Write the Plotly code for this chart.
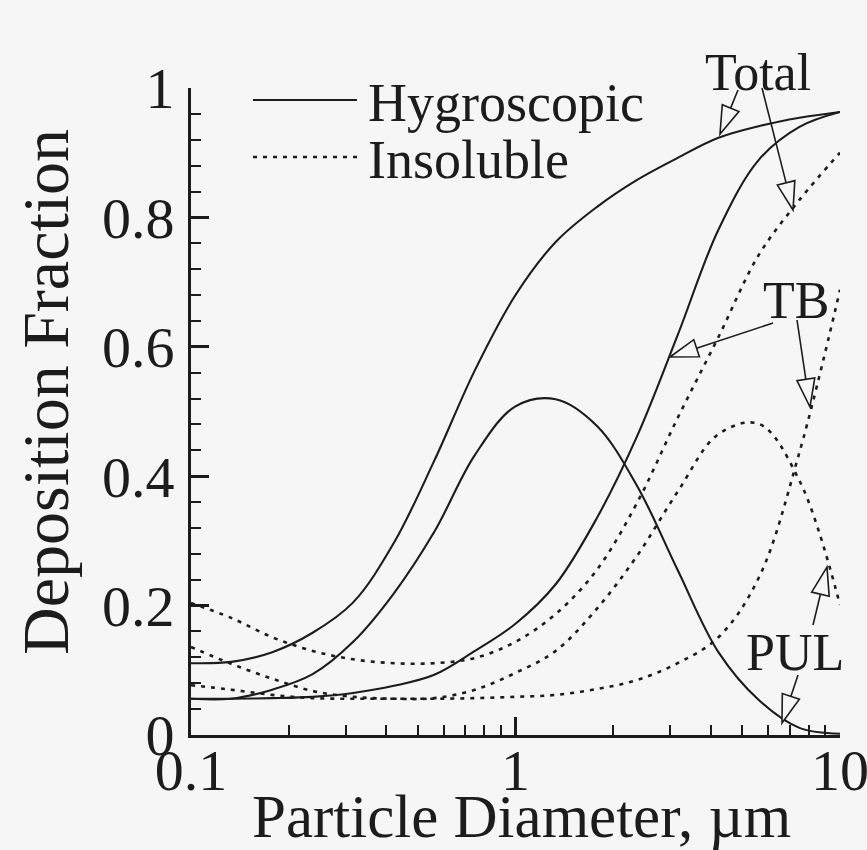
import plotly.graph_objects as go

# ---------------- data ----------------
diameter = [0.1, 0.133, 0.178, 0.237, 0.316, 0.422, 0.562, 0.75, 1.0,
            1.33, 1.78, 2.37, 3.16, 4.22, 5.62, 7.5, 10]

hyg_total = [0.111, 0.113, 0.128, 0.158, 0.205, 0.297, 0.424, 0.564, 0.680,
             0.762, 0.816, 0.858, 0.892, 0.923, 0.941, 0.954, 0.963]
hyg_tb = [0.056, 0.056, 0.057, 0.059, 0.065, 0.076, 0.093, 0.130, 0.172,
          0.233, 0.335, 0.462, 0.618, 0.781, 0.889, 0.940, 0.963]
hyg_pul = [0.056, 0.056, 0.070, 0.094, 0.144, 0.219, 0.314, 0.433, 0.508,
           0.519, 0.478, 0.385, 0.255, 0.128, 0.054, 0.011, 0.002]

ins_total = [0.204, 0.181, 0.151, 0.130, 0.117, 0.111, 0.111, 0.119, 0.144,
             0.187, 0.255, 0.359, 0.490, 0.615, 0.742, 0.827, 0.900]
ins_tb = [0.077, 0.070, 0.062, 0.057, 0.056, 0.056, 0.056, 0.057, 0.059,
          0.062, 0.071, 0.085, 0.111, 0.151, 0.243, 0.437, 0.688]
ins_pul = [0.136, 0.110, 0.087, 0.068, 0.059, 0.056, 0.057, 0.070, 0.096,
           0.130, 0.195, 0.277, 0.376, 0.465, 0.481, 0.393, 0.201]

x_tick_vals = [0.1, 1, 10]
x_tick_text = ["0.1", "1", "10"]
x_minor_vals = [0.2, 0.3, 0.4, 0.5, 0.6, 0.7, 0.8, 0.9, 2, 3, 4, 5, 6, 7, 8, 9]
y_tick_vals = [0, 0.2, 0.4, 0.6, 0.8, 1]
y_tick_text = ["0", "0.2", "0.4", "0.6", "0.8", "1"]

legend_labels = ["Hygroscopic", "Insoluble"]
x_title = "Particle Diameter, \u00b5m"
y_title = "Deposition Fraction"
# ---------------------------------------------------------------

BG = "#f6f6f6"
INK = "#1c1c1c"
FONT = "Liberation Serif, Times New Roman, serif"
DOT = "4px,6px"
SOLID_W, DOT_W = 2.1, 2.6

# plot-area geometry (pixels)
L, R, T, B = 191, 840, 88, 735
W, H = 867, 850


def paper(px, py):
    return (px - L) / (R - L), (B - py) / (B - T)


fig = go.Figure()

series = [
    (hyg_total, "solid", "Hygroscopic total"),
    (hyg_tb, "solid", "Hygroscopic TB"),
    (hyg_pul, "solid", "Hygroscopic PUL"),
    (ins_total, DOT, "Insoluble total"),
    (ins_tb, DOT, "Insoluble TB"),
    (ins_pul, DOT, "Insoluble PUL"),
]
for ys, dash, name in series:
    fig.add_trace(go.Scatter(
        x=diameter, y=ys, mode="lines", name=name, showlegend=False,
        line=dict(color=INK, width=SOLID_W if dash == "solid" else DOT_W,
                  dash=dash, shape="spline", smoothing=1.0),
        hoverinfo="skip",
    ))

shapes = []
annotations = []

# manual legend
for i, (lab, dash) in enumerate(zip(legend_labels, ["solid", DOT])):
    py = 100 + 57 * i
    x0, y0 = paper(253, py)
    x1, _ = paper(357, py)
    shapes.append(dict(type="line", xref="paper", yref="paper", x0=x0, x1=x1, y0=y0, y1=y0,
                       line=dict(color=INK, width=SOLID_W if dash == "solid" else DOT_W, dash=dash)))
    tx, ty = paper(366, py + 3)
    annotations.append(dict(xref="paper", yref="paper", x=tx, y=ty, text=lab, showarrow=False,
                            xanchor="left", yanchor="middle",
                            font=dict(family=FONT, size=54, color=INK)))

# callout labels with hollow arrows
labels = [("Total", 758, 72), ("TB", 796, 300), ("PUL", 795, 652)]
for txt, cx, cy in labels:
    ax_, ay_ = paper(cx, cy)
    annotations.append(dict(xref="paper", yref="paper", x=ax_, y=ay_, text=txt, showarrow=False,
                            xanchor="center", yanchor="middle",
                            font=dict(family=FONT, size=52, color=INK)))

arrows = [((738, 90), (720, 134)), ((762, 88), (793, 210)),
          ((773, 323), (670, 357)), ((797, 320), (810, 407)),
          ((813, 625), (827, 567)), ((798, 675), (782, 723))]
HL, HW = 28, 9
for (sx, sy), (tx, ty) in arrows:
    dx, dy = tx - sx, ty - sy
    n = (dx * dx + dy * dy) ** 0.5
    ux, uy = dx / n, dy / n
    bx, by = tx - HL * ux, ty - HL * uy
    nx, ny = -uy, ux
    p0 = paper(sx, sy)
    p1 = paper(bx, by)
    shapes.append(dict(type="line", xref="paper", yref="paper", x0=p0[0], y0=p0[1], x1=p1[0], y1=p1[1],
                       line=dict(color=INK, width=1.6)))
    c1 = paper(bx + HW * nx, by + HW * ny)
    c2 = paper(bx - HW * nx, by - HW * ny)
    tp = paper(tx, ty)
    path = f"M{tp[0]},{tp[1]} L{c1[0]},{c1[1]} L{c2[0]},{c2[1]} Z"
    shapes.append(dict(type="path", xref="paper", yref="paper", path=path,
                       fillcolor=BG, line=dict(color=INK, width=1.6)))

# axis titles as annotations (precise placement)
xt = paper(521, 816)
annotations.append(dict(xref="paper", yref="paper", x=xt[0], y=xt[1], text=x_title, showarrow=False,
                        xanchor="center", yanchor="middle",
                        font=dict(family=FONT, size=61, color=INK)))
yt = paper(45, 392)
annotations.append(dict(xref="paper", yref="paper", x=yt[0], y=yt[1], text=y_title, showarrow=False,
                        xanchor="center", yanchor="middle", textangle=-90,
                        font=dict(family=FONT, size=66, color=INK)))

fig.update_layout(
    width=W, height=H,
    margin=dict(l=L, r=W - R, t=T, b=H - B),
    paper_bgcolor=BG, plot_bgcolor=BG,
    font=dict(family=FONT, color=INK),
    shapes=shapes, annotations=annotations,
    showlegend=False,
)

fig.update_xaxes(
    type="log", range=[-1, 1],
    showgrid=False, zeroline=False,
    showline=True, linecolor=INK, linewidth=3,
    ticks="inside", ticklen=18, tickwidth=2.5, tickcolor=INK,
    tickvals=x_tick_vals, ticktext=x_tick_text,
    tickfont=dict(family=FONT, size=58, color=INK),
    ticklabeloverflow="allow", ticklabelstandoff=-18,
    minor=dict(tickvals=x_minor_vals, ticks="inside", ticklen=10, tickwidth=2.2, tickcolor=INK),
    automargin=False,
)
fig.update_yaxes(
    range=[0, 1],
    showgrid=False, zeroline=False,
    showline=True, linecolor=INK, linewidth=3,
    ticks="inside", ticklen=18, tickwidth=2.5, tickcolor=INK,
    tickvals=y_tick_vals, ticktext=y_tick_text,
    tickfont=dict(family=FONT, size=58, color=INK),
    ticklabeloverflow="allow", ticklabelstandoff=2,
    minor=dict(dtick=0.04, tick0=0, ticks="inside", ticklen=10, tickwidth=2.2, tickcolor=INK),
    automargin=False,
)

fig.write_html("out.html")
